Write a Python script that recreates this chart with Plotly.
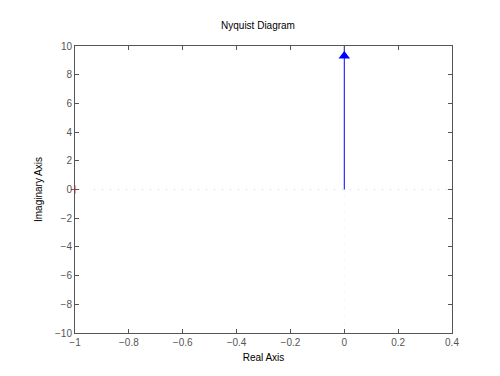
import plotly.graph_objects as go

# Nyquist curve data
real_part = [0.0, 0.0]
imag_part = [0.0, 10.0]
arrow_real = [0.0]
arrow_imag = [9.3]
crit_real = [-1.0]
crit_imag = [0.0]

x_ticks = [-1, -0.8, -0.6, -0.4, -0.2, 0, 0.2, 0.4]
x_labels = ["\u22121", "\u22120.8", "\u22120.6", "\u22120.4", "\u22120.2", "0", "0.2", "0.4"]
y_ticks = [-10, -8, -6, -4, -2, 0, 2, 4, 6, 8, 10]
y_labels = ["\u221210", "\u22128", "\u22126", "\u22124", "\u22122", "0", "2", "4", "6", "8", "10"]

fig = go.Figure()
# faint dotted zero lines
fig.add_trace(go.Scatter(x=[-0.93, 0.4], y=[0, 0], mode="lines",
                         line=dict(color="#cfcfcf", width=1, dash="1px,7px"),
                         hoverinfo="skip", showlegend=False))
fig.add_trace(go.Scatter(x=[0, 0], y=[-10, 0], mode="lines",
                         line=dict(color="#eeeeee", width=1, dash="1px,7px"),
                         hoverinfo="skip", showlegend=False))
fig.add_trace(go.Scatter(x=real_part, y=imag_part, mode="lines",
                         line=dict(color="#0000ff", width=1), showlegend=False))
fig.add_trace(go.Scatter(x=arrow_real, y=arrow_imag, mode="markers",
                         marker=dict(symbol="triangle-up", size=10, color="#0000ff"),
                         showlegend=False))
fig.add_trace(go.Scatter(x=crit_real, y=crit_imag, mode="markers",
                         marker=dict(symbol="cross-thin", size=6, line=dict(color="#ff3030", width=1)),
                         showlegend=False, cliponaxis=False))

axis_common = dict(showgrid=False, zeroline=False, showline=True, linecolor="#555555",
                   linewidth=1, mirror="ticks", ticks="inside", ticklen=4, automargin=False,
                   tickcolor="#555555", tickfont=dict(size=10, color="#555555"))

W, H = 484, 360
fig.update_layout(
    width=W, height=H,
    margin=dict(l=67, r=40, t=38, b=35),
    paper_bgcolor="white", plot_bgcolor="white",
    font=dict(family="Liberation Sans, Arial, sans-serif", size=10, color="#000000"),
    title=dict(text="Nyquist Diagram", x=250 / W, xanchor="center", y=1 - 17 / H, yanchor="middle",
               font=dict(size=10, color="#000000")),
    xaxis=dict(range=[-1, 0.4], tickvals=x_ticks, ticktext=x_labels,
               title=dict(text="Real Axis", font=dict(size=10), standoff=6), **axis_common),
    yaxis=dict(range=[-10, 10], tickvals=y_ticks, ticktext=y_labels,
               title=dict(text="Imaginary Axis", font=dict(size=10), standoff=10), **axis_common),
)

fig.write_html("out.html")
